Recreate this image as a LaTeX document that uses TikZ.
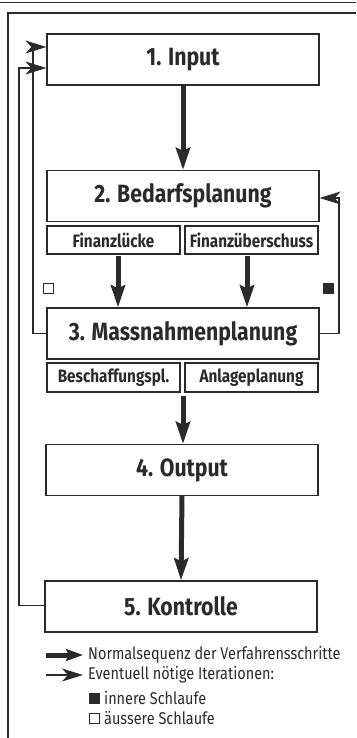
\documentclass[tikz,border=0pt]{standalone}
\usepackage{fontspec}
\setmainfont{Fira Sans}[FakeStretch=0.85]
\usetikzlibrary{arrows.meta}
\definecolor{ink}{HTML}{2A2A2A}
\tikzset{
  mainbox/.style={draw=ink, line width=1.2pt, minimum width=272pt, minimum height=51pt, inner sep=0pt, font=\fontsize{25}{25}\selectfont\bfseries, text=ink},
  subbox/.style={draw=ink, line width=1.2pt, minimum width=133pt, minimum height=28pt, inner sep=0pt, font=\fontsize{18}{18}\selectfont\bfseries, text=ink},
  flow/.style={draw=ink, line width=5pt, -{Stealth[length=22pt, width=14pt, inset=3pt]}},
  loop/.style={draw=ink, line width=1.3pt, -{Stealth[length=21pt, width=13pt, inset=6pt]}},
  legtext/.style={anchor=west, inner sep=0pt, font=\fontsize{17}{17}\selectfont, text=ink},
  frame/.style={draw=ink, line width=1.5pt},
  sq/.style={draw=ink, line width=0.8pt, minimum size=10pt, inner sep=0pt},
}
\begin{document}
\begin{tikzpicture}[x=1pt, y=-1pt]
\useasboundingbox (0,0) rectangle (356,738);
\draw[frame] (0,2.5) -- (356,2.5);
\draw[frame] (356,13) -- (8,13) -- (8,738);

\node[mainbox] (in)   at (183,59.5)  {1. Input};
\node[mainbox] (bed)  at (183,196)   {2. Bedarfsplanung};
\node[subbox]  (fl)   at (113.5,240) {Finanzlücke};
\node[subbox]  (fu)   at (251.5,240) {Finanzüberschuss};
\node[mainbox] (mass) at (183,333.5) {3. Massnahmenplanung};
\node[subbox, minimum height=29pt] (bes) at (113.5,377.5) {Beschaffungspl.};
\node[subbox, minimum height=29pt] (anl) at (251.5,377.5) {Anlageplanung};
\node[mainbox] (out)  at (182,470)   {4. Output};
\node[mainbox] (kon)  at (181,606.5) {5. Kontrolle};

\coordinate (a1) at (118,256);
\coordinate (a2) at (247,256);
\coordinate (a3) at (183,396);
\draw[flow] (in.south) -- (bed.north);
\draw[flow] (a1) -- (a1 |- mass.north);
\draw[flow] (a2) -- (a2 |- mass.north);
\draw[flow] (a3) -- (a3 |- out.north);
\draw[flow] (out.south) -- (kon.north);

% squares
\node[sq, fill=white] (wsq) at (48.5,288) {};
\node[sq, fill=ink] (bsq) at (328,288) {};

% loops
\coordinate (r1) at (339,0);
\coordinate (bedR) at ([yshift=-2pt]bed.east);
\draw[loop] (mass.east) -- (mass.east -| r1) -- (bedR -| r1) -- (bedR);
\coordinate (l1) at (33,0);
\coordinate (l2) at (19,0);
\coordinate (inA) at ([yshift=-8.5pt]in.west);
\coordinate (inB) at ([yshift=12.5pt]in.west);
\coordinate (konL) at ([yshift=1pt]kon.west);
\draw[loop] (mass.west) -- (mass.west -| l1) -- (inB -| l1) -- (inB);
\draw[loop] (konL) -- (konL -| l2) -- (inA -| l2) -- (inA);

% legend
\coordinate (la1) at (46,655);
\coordinate (lb1) at (83,655);
\coordinate (la2) at (46,675);
\coordinate (lb2) at (83,675);
\draw[flow, -{Stealth[length=17pt, width=12pt, inset=3pt]}] (la1) -- (lb1);
\draw[loop] (la2) -- (lb2);
\node[legtext] (t1) at (88,655) {Normalsequenz der Verfahrensschritte};
\node[legtext] (t2) at (88,675) {Eventuell nötige Iterationen:};
\node[sq, fill=ink] (lbs) at (94,698) {};
\node[legtext] (t3) at (104,698) {innere Schlaufe};
\node[sq, fill=white] (lws) at (94,718) {};
\node[legtext] (t4) at (104,718) {äussere Schlaufe};
\end{tikzpicture}
\end{document}
